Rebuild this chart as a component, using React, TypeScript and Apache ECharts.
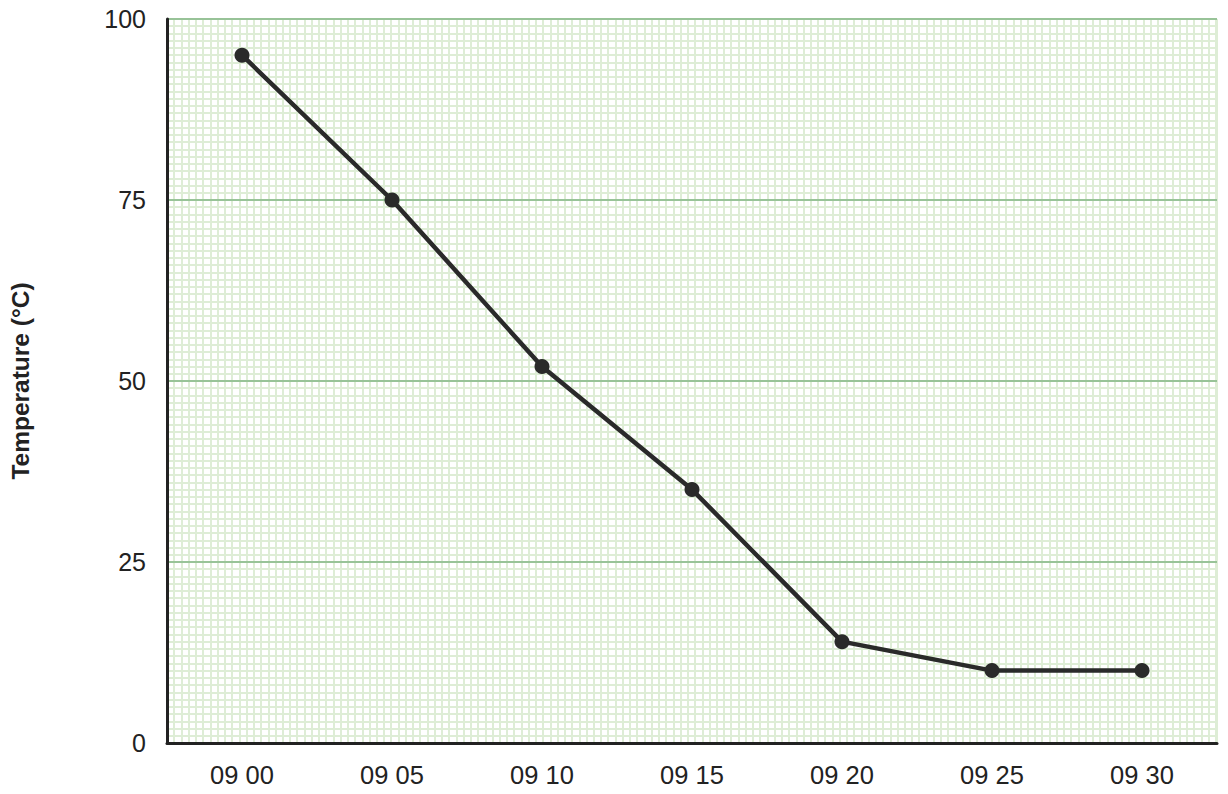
import React, { useEffect, useRef } from "react";
import * as echarts from "echarts";

const categories = ["09 00", "09 05", "09 10", "09 15", "09 20", "09 25", "09 30"];
const temperatures = [95, 75, 52, 35, 14, 10, 10];
const yTicks = [0, 25, 50, 75, 100];

export default function App() {
  const ref = useRef<HTMLDivElement>(null);
  useEffect(() => {
    if (!ref.current) return;
    const chart = echarts.init(ref.current, null, { renderer: "svg" });
    const gridLeft = 166, gridRight = 11, gridTop = 19, gridBottom = 51;
    const plotW = 1228 - gridLeft - gridRight;
    const plotH = 794 - gridTop - gridBottom;
    const unitPx = plotH / 100;
    const minorXMax = plotW / unitPx;
    const font = "Liberation Sans, Arial, sans-serif";
    chart.setOption({
      animation: false,
      backgroundColor: "#ffffff",
      textStyle: { fontFamily: font },
      grid: { left: gridLeft, right: gridRight, top: gridTop, bottom: gridBottom, containLabel: false },
      xAxis: [
        {
          type: "category",
          data: categories,
          boundaryGap: true,
          z: 3,
          axisLine: { show: true, lineStyle: { color: "#222", width: 3 } },
          axisTick: { show: false },
          axisLabel: { color: "#222", fontSize: 25.5, margin: 19, fontFamily: font },
          splitLine: { show: false },
        },
        {
          type: "value",
          min: 0,
          max: minorXMax,
          interval: 1,
          position: "top",
          z: 0,
          axisLine: { show: false },
          axisTick: { show: false },
          axisLabel: { show: false },
          splitLine: { show: true, lineStyle: { color: "#deedd6", width: 2 } },
        },
      ],
      yAxis: [
        {
          type: "value",
          min: 0,
          max: 100,
          interval: 25,
          z: 2,
          name: "Temperature (°C)",
          nameLocation: "middle",
          nameGap: 134,
          nameTextStyle: { color: "#222", fontSize: 24.5, fontWeight: "bold", fontFamily: font },
          axisLine: { show: true, lineStyle: { color: "#222", width: 3 } },
          axisTick: { show: false },
          axisLabel: { color: "#222", fontSize: 25, margin: 21, fontFamily: font },
          splitLine: { show: true, lineStyle: { color: "#98c398", width: 2 } },
          data: yTicks,
        },
        {
          type: "value",
          min: 0,
          max: 100,
          interval: 1,
          position: "right",
          z: 0,
          axisLine: { show: false },
          axisTick: { show: false },
          axisLabel: { show: false },
          splitLine: { show: true, lineStyle: { color: "#deedd6", width: 2 } },
        },
      ],
      series: [
        {
          type: "line",
          xAxisIndex: 0,
          yAxisIndex: 0,
          data: temperatures,
          z: 5,
          symbol: "circle",
          symbolSize: 15,
          lineStyle: { color: "#2a2a2a", width: 4.5 },
          itemStyle: { color: "#2a2a2a" },
        },
      ],
    });
    return () => chart.dispose();
  }, []);
  return <div ref={ref} style={{ width: 1228, height: 794, position: "absolute", left: 0, top: 0 }} />;
}
